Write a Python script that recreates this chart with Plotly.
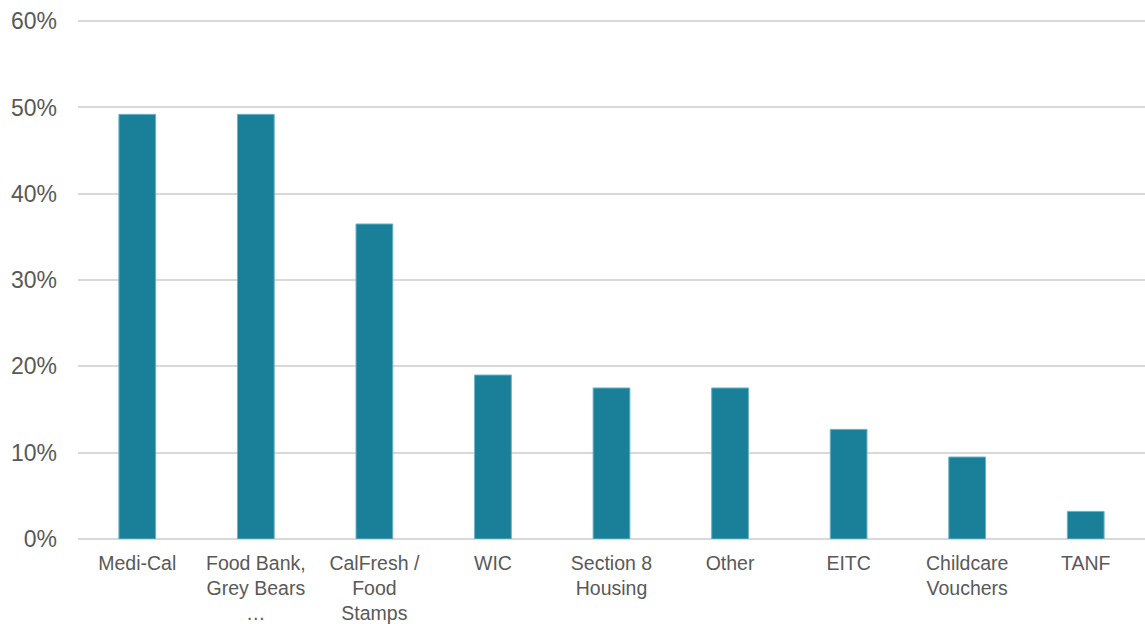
import plotly.graph_objects as go

# Share of respondents using each assistance program
categories = [
    "Medi-Cal",
    "Food Bank,<br>Grey Bears<br>…",
    "CalFresh /<br>Food<br>Stamps",
    "WIC",
    "Section 8<br>Housing",
    "Other",
    "EITC",
    "Childcare<br>Vouchers",
    "TANF",
]
shares = [0.492, 0.492, 0.365, 0.190, 0.175, 0.175, 0.127, 0.095, 0.032]

y_ticks = [0, 0.1, 0.2, 0.3, 0.4, 0.5, 0.6]
y_tick_labels = ["0%", "10%", "20%", "30%", "40%", "50%", "60%"]

fig = go.Figure(
    go.Bar(
        x=categories,
        y=shares,
        width=0.31,
        marker=dict(color="#1A8099", line=dict(color="#6DB2C4", width=1)),
        hoverinfo="x+y",
    )
)

fig.update_layout(
    width=1145,
    height=624,
    margin=dict(l=78, r=0, t=19, b=85),
    paper_bgcolor="white",
    plot_bgcolor="white",
    font=dict(family="Liberation Sans, Arial, sans-serif", color="#595959"),
    showlegend=False,
)

fig.update_xaxes(
    showgrid=False,
    showline=False,
    tickfont=dict(size=19.5, color="#595959"),
    ticks="",
    ticklabelstandoff=10,
    automargin=False,
)

fig.update_yaxes(
    range=[0, 0.6025],
    tickvals=y_ticks,
    ticktext=y_tick_labels,
    showgrid=True,
    gridcolor="#D9D9D9",
    gridwidth=1.5,
    zeroline=True,
    zerolinecolor="#D9D9D9",
    zerolinewidth=1.5,
    showline=False,
    ticks="",
    tickfont=dict(size=23, color="#595959"),
    ticklabelstandoff=20,
    automargin=False,
)

fig.write_html("out.html")
